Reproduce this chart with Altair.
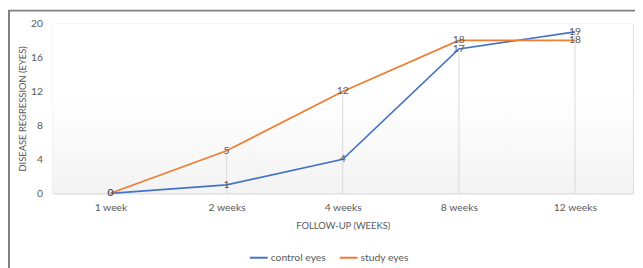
import altair as alt
import pandas as pd

weeks = ["1 week", "2 weeks", "4 weeks", "8 weeks", "12 weeks"]
control_eyes = [0, 1, 4, 17, 19]
study_eyes = [0, 5, 12, 18, 18]
series_names = ["control eyes", "study eyes"]
series_colors = ["#4472C4", "#ED7D31"]
y_ticks = [0, 4, 8, 12, 16, 20]

rows = []
for name, vals in zip(series_names, [control_eyes, study_eyes]):
    for w, v in zip(weeks, vals):
        rows.append({"week": w, "value": v, "series": name})
df = pd.DataFrame(rows)
drop_df = pd.DataFrame({"week": weeks, "top": [max(a, b) for a, b in zip(control_eyes, study_eyes)]})

W, H = 588, 172
FONT = "Lato"
GREY = "#595959"

xscale = alt.Scale(type="point", domain=weeks, padding=0.5)
yscale = alt.Scale(domain=[0, 20], nice=False)

x_axis = alt.Axis(title="FOLLOW-UP (WEEKS)", labelAngle=0, domainColor="#d9d9d9",
                  ticks=False, labelPadding=9, labelFontSize=10.5, labelColor=GREY,
                  labelFont=FONT, titleFont=FONT, titleFontSize=9.5, titleColor=GREY,
                  titleFontWeight="normal", titleX=W / 2, titleY=33,
                  titleBaseline="middle", labelOverlap=False)
y_axis = alt.Axis(title="DISEASE REGRESSION (EYES)", values=y_ticks, grid=False,
                  domain=False, ticks=False, labelPadding=10, labelFontSize=10.5,
                  labelColor=GREY, labelFont=FONT, titleFont=FONT, titleFontSize=9.5,
                  titleColor=GREY, titleFontWeight="normal", titleX=-30, titleY=H / 2,
                  titleAngle=-90, titleBaseline="middle", titleAlign="center",
                  labelOverlap=False)

bg = alt.Chart(pd.DataFrame({"a": [0]})).mark_rect(
    color=alt.Gradient(
        gradient="linear", x1=0, x2=0, y1=0, y2=1,
        stops=[alt.GradientStop(color="#ffffff", offset=0.4),
               alt.GradientStop(color="#f3f3f3", offset=1)],
    )
).encode(x=alt.value(0), x2=alt.value(W), y=alt.value(0), y2=alt.value(H))

drops = alt.Chart(drop_df).mark_rule(color="#d9d9d9", strokeWidth=1).encode(
    x=alt.X("week:N", scale=xscale, sort=weeks, axis=x_axis),
    y=alt.Y("top:Q", scale=yscale, axis=y_axis),
    y2=alt.datum(0),
)

lines = alt.Chart(df).mark_line(strokeWidth=1.7).encode(
    x=alt.X("week:N", scale=xscale, sort=weeks, axis=x_axis),
    y=alt.Y("value:Q", scale=yscale, axis=y_axis),
    color=alt.Color("series:N", scale=alt.Scale(domain=series_names, range=series_colors),
                    legend=alt.Legend(title=None, orient="none", direction="horizontal",
                                      legendX=199, legendY=227, symbolType="stroke",
                                      symbolSize=324, symbolStrokeWidth=2, labelFont=FONT,
                                      labelFontSize=10.5, labelColor=GREY, labelOffset=2,
                                      columnPadding=10)),
)

labels = alt.Chart(df).mark_text(color=GREY, fontSize=10.5, font=FONT, align="center",
                                 baseline="middle").encode(
    x=alt.X("week:N", scale=xscale, sort=weeks, axis=x_axis),
    y=alt.Y("value:Q", scale=yscale, axis=y_axis),
    text="value:Q",
)

frame_left = alt.Chart(pd.DataFrame({"a": [0]})).mark_rule(color="#808080", strokeWidth=2).encode(
    x=alt.value(-44), y=alt.value(-13), y2=alt.value(250))
frame_top = alt.Chart(pd.DataFrame({"a": [0]})).mark_rule(color="#808080", strokeWidth=2).encode(
    x=alt.value(-45), x2=alt.value(W + 10), y=alt.value(-13))

chart = alt.layer(bg, drops, lines, labels, frame_left, frame_top).properties(
    width=W, height=H,
    autosize=alt.AutoSizeParams(type="none"),
    padding={"left": 45, "top": 14, "right": 2, "bottom": 74},
).configure_view(stroke=None).configure(background="white")

chart.save("out.html", embed_options={"renderer": "svg", "actions": False})
